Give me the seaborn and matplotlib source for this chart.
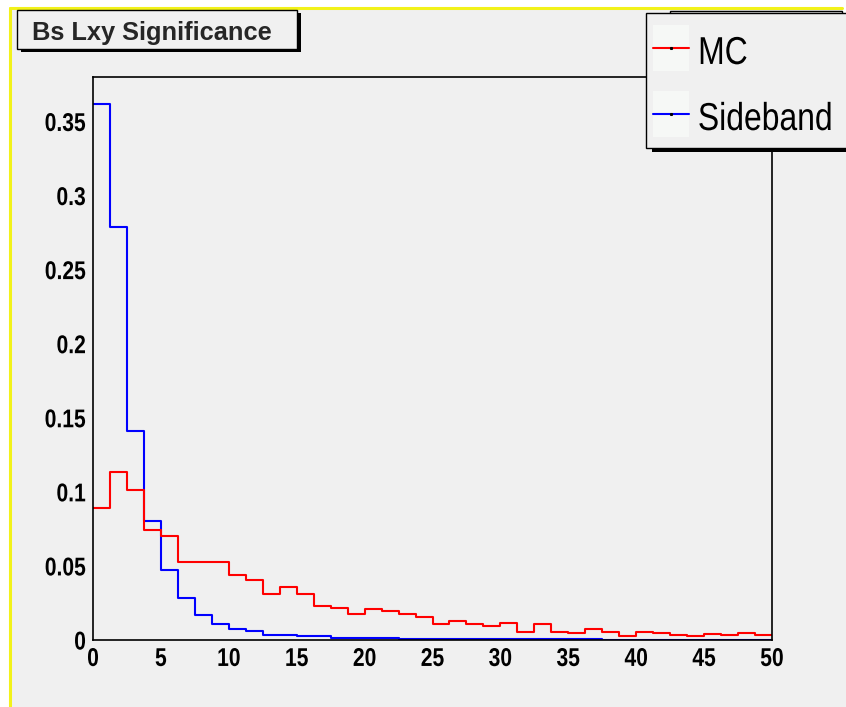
import numpy as np
import pandas as pd
import seaborn as sns
import matplotlib
matplotlib.use("Agg")
import matplotlib.pyplot as plt
from matplotlib.patches import Rectangle
from matplotlib.lines import Line2D
from matplotlib.ticker import MultipleLocator
from matplotlib.font_manager import FontProperties
from matplotlib.patheffects import AbstractPathEffect
from matplotlib.transforms import Affine2D

# --- data -------------------------------------------------------------------
bin_edges = [i * 1.25 for i in range(41)]        # 40 bins of width 1.25 on [0, 50]

mc_values = [
    0.0893, 0.1136, 0.1014, 0.0740, 0.0700, 0.0529, 0.0529, 0.0529,
    0.0439, 0.0407, 0.0313, 0.0358, 0.0313, 0.0227, 0.0218, 0.0178,
    0.0207, 0.0198, 0.0178, 0.0155, 0.0108, 0.0128, 0.0108, 0.0094,
    0.0115, 0.0056, 0.0106, 0.0056, 0.0045, 0.0073, 0.0056, 0.0026,
    0.0054, 0.0046, 0.0035, 0.0026, 0.0043, 0.0033, 0.0046, 0.0035,
]
sideband_values = [
    0.3620, 0.2790, 0.1410, 0.0803, 0.0470, 0.0285, 0.0169, 0.0110,
    0.0074, 0.0061, 0.0034, 0.0034, 0.0025, 0.0026, 0.0015, 0.0015,
    0.0015, 0.0015, 0.0006, 0.0006, 0.0006, 0.0005, 0.0005, 0.0005,
    0.0005, 0.0004, 0.0004, 0.0004, 0.0004, 0.0004, 0.0003, 0.0003,
    0.0003, 0.0003, 0.0003, 0.0003, 0.0003, 0.0003, 0.0003, 0.0003,
]

series_labels = ["MC", "Sideband"]
series_colors = ["#ff0000", "#0000ff"]
title_text = "Bs Lxy Significance"

x_ticks = [0, 5, 10, 15, 20, 25, 30, 35, 40, 45, 50]
x_tick_labels = ["0", "5", "10", "15", "20", "25", "30", "35", "40", "45", "50"]
y_ticks = [0.0, 0.05, 0.10, 0.15, 0.20, 0.25, 0.30, 0.35]
y_tick_labels = ["0", "0.05", "0.1", "0.15", "0.2", "0.25", "0.3", "0.35"]

edges_arr = np.asarray(bin_edges)
centers = 0.5 * (edges_arr[:-1] + edges_arr[1:])
df = pd.DataFrame({
    "x": np.concatenate([centers, centers]),
    "w": np.concatenate([mc_values, sideband_values]),
    "series": [series_labels[0]] * len(centers) + [series_labels[1]] * len(centers),
})


class Squeeze(AbstractPathEffect):
    """Draw text glyphs horizontally condensed about a left/center/right anchor."""

    def __init__(self, sx=0.82, anchor="left"):
        super().__init__()
        self.sx = sx
        self.anchor = anchor

    def draw_path(self, renderer, gc, tpath, affine, rgbFace=None):
        ext = tpath.get_extents()
        if self.anchor == "right":
            a = ext.x1
        elif self.anchor == "center":
            a = 0.5 * (ext.x0 + ext.x1)
        else:
            a = 0.0
        squeeze = Affine2D().translate(-a, 0).scale(self.sx, 1.0).translate(a, 0)
        renderer.draw_path(gc, tpath, squeeze + affine, rgbFace)


# --- canvas -----------------------------------------------------------------
sns.set_style("white")
W, H = 846, 707
fig = plt.figure(figsize=(W / 100, H / 100), dpi=100, facecolor="white")

def fx(px):
    return px / W

def fy(py):
    return 1.0 - py / H

BG = "#f0f0f0"
SANS = ["Liberation Sans", "DejaVu Sans"]

# gray pad with yellow border on the left and top
fig.add_artist(Rectangle((fx(10), 0), fx(843) - fx(10), fy(8), transform=fig.transFigure,
                         facecolor=BG, edgecolor="none", zorder=0))
fig.add_artist(Rectangle((fx(843), 0), 1.0, fy(150), transform=fig.transFigure,
                         facecolor=BG, edgecolor="none", zorder=0))
fig.add_artist(Line2D([fx(10), fx(10)], [0, fy(8)], transform=fig.transFigure,
                      color="#f2f21a", lw=2.2, zorder=1))
fig.add_artist(Line2D([fx(10), fx(842)], [fy(8), fy(8)], transform=fig.transFigure,
                      color="#f2f21a", lw=2.2, zorder=1))

# --- histogram frame --------------------------------------------------------
ax = fig.add_axes([fx(93), fy(640), fx(772) - fx(93), fy(77) - fy(640)])
ax.set_facecolor(BG)

sns.histplot(data=df, x="x", weights="w", hue="series", hue_order=series_labels,
             bins=bin_edges, element="step", fill=False,
             palette=dict(zip(series_labels, series_colors)),
             linewidth=1.5, legend=False, ax=ax)

ax.set_xlim(0, 50)
ax.set_ylim(0, 0.38)
ax.set_xlabel("")
ax.set_ylabel("")

for s in ax.spines.values():
    s.set_color("black")
    s.set_linewidth(1.2)

ax.set_xticks(x_ticks)
ax.set_xticklabels(x_tick_labels)
ax.set_yticks(y_ticks)
ax.set_yticklabels(y_tick_labels)
ax.xaxis.set_minor_locator(MultipleLocator(1))
ax.yaxis.set_minor_locator(MultipleLocator(0.01))

ax.tick_params(axis="x", which="major", direction="in", length=12, width=1.2,
               color="#222222", pad=5, top=False)
ax.tick_params(axis="x", which="minor", direction="in", length=6, width=1.2,
               color="#222222", top=False)
ax.tick_params(axis="y", which="major", direction="in", length=14.4, width=1.2,
               color="#222222", pad=5, right=False)
ax.tick_params(axis="y", which="minor", direction="in", length=7.2, width=1.2,
               color="#222222", right=False)

tick_font = FontProperties(family=SANS, weight="bold", size=18.5)
for lab in ax.get_xticklabels():
    lab.set_fontproperties(tick_font)
    lab.set_color("black")
    lab.set_path_effects([Squeeze(0.82, "center")])
for lab in ax.get_yticklabels():
    lab.set_fontproperties(tick_font)
    lab.set_color("black")
    lab.set_path_effects([Squeeze(0.82, "right")])

# --- title box --------------------------------------------------------------
def boxed(x0, y0, x1, y1, dx, dy, z):
    fig.add_artist(Rectangle((fx(x0 + dx), fy(y1 + dy)), fx(x1) - fx(x0), fy(y0) - fy(y1),
                             transform=fig.transFigure, facecolor="black",
                             edgecolor="black", lw=0, zorder=z))
    fig.add_artist(Rectangle((fx(x0), fy(y1)), fx(x1) - fx(x0), fy(y0) - fy(y1),
                             transform=fig.transFigure, facecolor=BG,
                             edgecolor="black", lw=1.0, zorder=z + 0.1))

boxed(17, 10, 297, 49, 4, 3, 5)
fig.text(fx(32), fy(40), title_text, ha="left", va="baseline",
         fontsize=18.3, fontweight="bold", family=SANS, zorder=6)

# --- legend -----------------------------------------------------------------
fig.add_artist(Rectangle((fx(670), fy(100)), fx(842) - fx(670), fy(11) - fy(100),
                         transform=fig.transFigure, facecolor=BG,
                         edgecolor="black", lw=1.0, zorder=7))
boxed(646, 13, 900, 148, 6, 4, 8)

# each entry: handle row centre and right edge of its (condensed) label
entry_rows = [48, 114]
label_right = [748, 833]
for label, color, yc, xr in zip(series_labels, series_colors, entry_rows, label_right):
    fig.add_artist(Rectangle((fx(653), fy(yc + 23)), fx(689) - fx(653), fy(yc - 23) - fy(yc + 23),
                             transform=fig.transFigure, facecolor="#f6f8f6",
                             edgecolor="none", zorder=9))
    fig.add_artist(Line2D([fx(653), fx(689)], [fy(yc), fy(yc)], transform=fig.transFigure,
                          color=color, lw=1.5, zorder=10))
    fig.add_artist(Line2D([fx(671)], [fy(yc)], transform=fig.transFigure, marker="s",
                          markersize=1.2, color="black", lw=0, zorder=11))
    t = fig.text(fx(xr), fy(yc + 16), label, ha="right", va="baseline", fontsize=28,
                 family=SANS, color="black", zorder=11)
    t.set_path_effects([Squeeze(0.82, "right")])

fig.savefig("out.png", dpi=100, facecolor=fig.get_facecolor())
